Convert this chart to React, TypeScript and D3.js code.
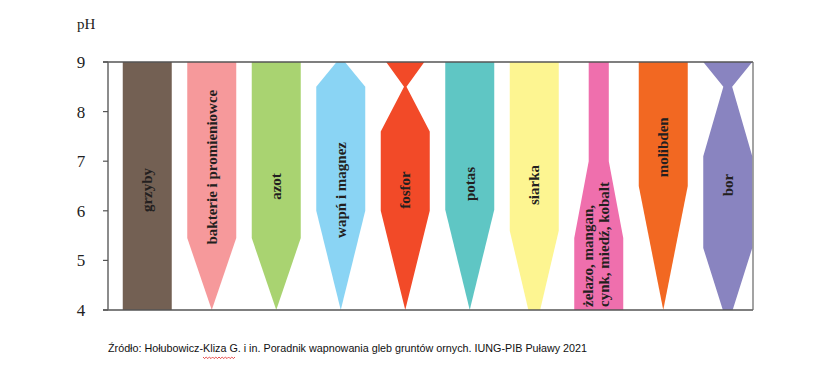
import React from "react";
import * as d3 from "d3";

const categories = [
  "grzyby",
  "bakterie i promieniowce",
  "azot",
  "wapń i magnez",
  "fosfor",
  "potas",
  "siarka",
  "żelazo, mangan, cynk, miedź, kobalt",
  "molibden",
  "bor",
];

const colors = [
  "#736053",
  "#f6999b",
  "#a9d371",
  "#8ad4f4",
  "#f24a28",
  "#5fc6c4",
  "#fdf591",
  "#ef6fad",
  "#f26822",
  "#8984c0",
];

// [pH, relative width] outline points, top to bottom
const grzybyShape: [number, number][] = [[9, 1], [4, 1]];
const bakterieShape: [number, number][] = [[9, 1], [5.45, 1], [4, 0]];
const azotShape: [number, number][] = [[9, 1], [5.45, 1], [4, 0]];
const wapnShape: [number, number][] = [[9, 0.17], [8.5, 1], [6.0, 1], [4, 0]];
const fosforShape: [number, number][] = [[9, 0.78], [8.5, 0.05], [7.6, 1], [6.0, 1], [4, 0]];
const potasShape: [number, number][] = [[9, 1], [6.02, 1], [4, 0]];
const siarkaShape: [number, number][] = [[9, 1], [5.6, 1], [4, 0.24]];
const zelazoShape: [number, number][] = [[9, 0.41], [7.0, 0.41], [5.45, 1], [4, 1]];
const molibdenShape: [number, number][] = [[9, 1], [6.5, 1], [4, 0]];
const borShape: [number, number][] = [[9, 1], [8.5, 0.18], [7.1, 1], [5.25, 1], [4, 0.2]];

const shapes = [
  grzybyShape,
  bakterieShape,
  azotShape,
  wapnShape,
  fosforShape,
  potasShape,
  siarkaShape,
  zelazoShape,
  molibdenShape,
  borShape,
];

// label lines and their centre (pH) position
const labelLines: string[][] = [
  ["grzyby"],
  ["bakterie i promieniowce"],
  ["azot"],
  ["wapń i magnez"],
  ["fosfor"],
  ["potas"],
  ["siarka"],
  ["żelazo, mangan,", "cynk, miedź, kobalt"],
  ["molibden"],
  ["bor"],
];
const labelCenters = [6.42, 6.88, 6.49, 6.42, 6.42, 6.54, 6.52, 4.06, 7.28, 6.52];

const yTicks = [4, 5, 6, 7, 8, 9];

const sourceText =
  "Źródło: Hołubowicz-Kliza G. i in. Poradnik wapnowania gleb gruntów ornych. IUNG-PIB Puławy 2021";

export default function App() {
  const W = 820;
  const H = 384;
  const left = 108;
  const right = 753;
  const top = 62;
  const bottom = 310;
  const barW = 49;

  const y = d3.scaleLinear().domain([4, 9]).range([bottom, top]);
  const x = d3.scalePoint<string>().domain(categories).range([115, 760]).padding(0.5);

  const serif = "'Liberation Serif', 'DejaVu Serif', serif";
  const fs = 15;

  return (
    <svg
      width={W}
      height={H}
      style={{ position: "absolute", left: 0, top: 0, background: "#fff" }}
    >
      <rect x={0} y={0} width={W} height={H} fill="#fff" />
      {categories.map((c, i) => {
        const cx = x(c)!;
        const area = d3
          .area<[number, number]>()
          .y((d) => y(d[0]))
          .x0((d) => cx - (d[1] * barW) / 2)
          .x1((d) => cx + (d[1] * barW) / 2)
          .curve(d3.curveLinear);
        return <path key={c} d={area(shapes[i]) || ""} fill={colors[i]} />;
      })}

      {/* frame */}
      <line x1={103} x2={right} y1={top} y2={top} stroke="#555" strokeWidth={1.5} />
      <line x1={103} x2={right} y1={bottom} y2={bottom} stroke="#555" strokeWidth={1.5} />
      <line x1={left} x2={left} y1={top} y2={bottom} stroke="#666" strokeWidth={1.5} />
      <line x1={right} x2={right} y1={top} y2={bottom} stroke="#666" strokeWidth={1.2} />

      {yTicks.map((t) => (
        <g key={t}>
          <line x1={103} x2={left} y1={y(t)} y2={y(t)} stroke="#555" strokeWidth={1.2} />
          <text
            x={81}
            y={y(t)}
            dy="0.35em"
            textAnchor="middle"
            fontFamily={serif}
            fontSize={17}
            fill="#222"
          >
            {t}
          </text>
        </g>
      ))}
      <text x={77} y={29} fontFamily={serif} fontSize={15} fill="#222">
        pH
      </text>

      {categories.map((c, i) => {
        const cx = x(c)!;
        const lines = labelLines[i];
        if (lines.length === 1) {
          return (
            <text
              key={c}
              transform={`translate(${cx + 5},${y(labelCenters[i])}) rotate(-90)`}
              textAnchor="middle"
              fontFamily={serif}
              fontWeight="bold"
              fontSize={fs}
              fill="#231f20"
            >
              {lines[0]}
            </text>
          );
        }
        return (
          <g key={c}>
            {lines.map((ln, j) => (
              <text
                key={j}
                transform={`translate(${cx - 6 + j * 16},${y(labelCenters[i])}) rotate(-90)`}
                textAnchor="start"
                fontFamily={serif}
                fontWeight="bold"
                fontSize={fs}
                fill="#231f20"
              >
                {ln}
              </text>
            ))}
          </g>
        );
      })}

      <text
        x={108}
        y={352}
        fontFamily="'Liberation Sans', Arial, sans-serif"
        fontSize={11.5}
        fill="#111"
        textLength={479}
        lengthAdjust="spacingAndGlyphs"
      >
        {sourceText}
      </text>
      <path
        d="M203,357 l1.6,1.6 l1.6,-1.6 l1.6,1.6 l1.6,-1.6 l1.6,1.6 l1.6,-1.6 l1.6,1.6 l1.6,-1.6 l1.6,1.6 l1.6,-1.6 l1.6,1.6 l1.6,-1.6 l1.6,1.6 l1.6,-1.6 l1.6,1.6 l1.6,-1.6 l1.6,1.6 l1.6,-1.6 l1.6,1.6 l1.6,-1.6"
        fill="none"
        stroke="#e02020"
        strokeWidth={0.8}
      />
    </svg>
  );
}
